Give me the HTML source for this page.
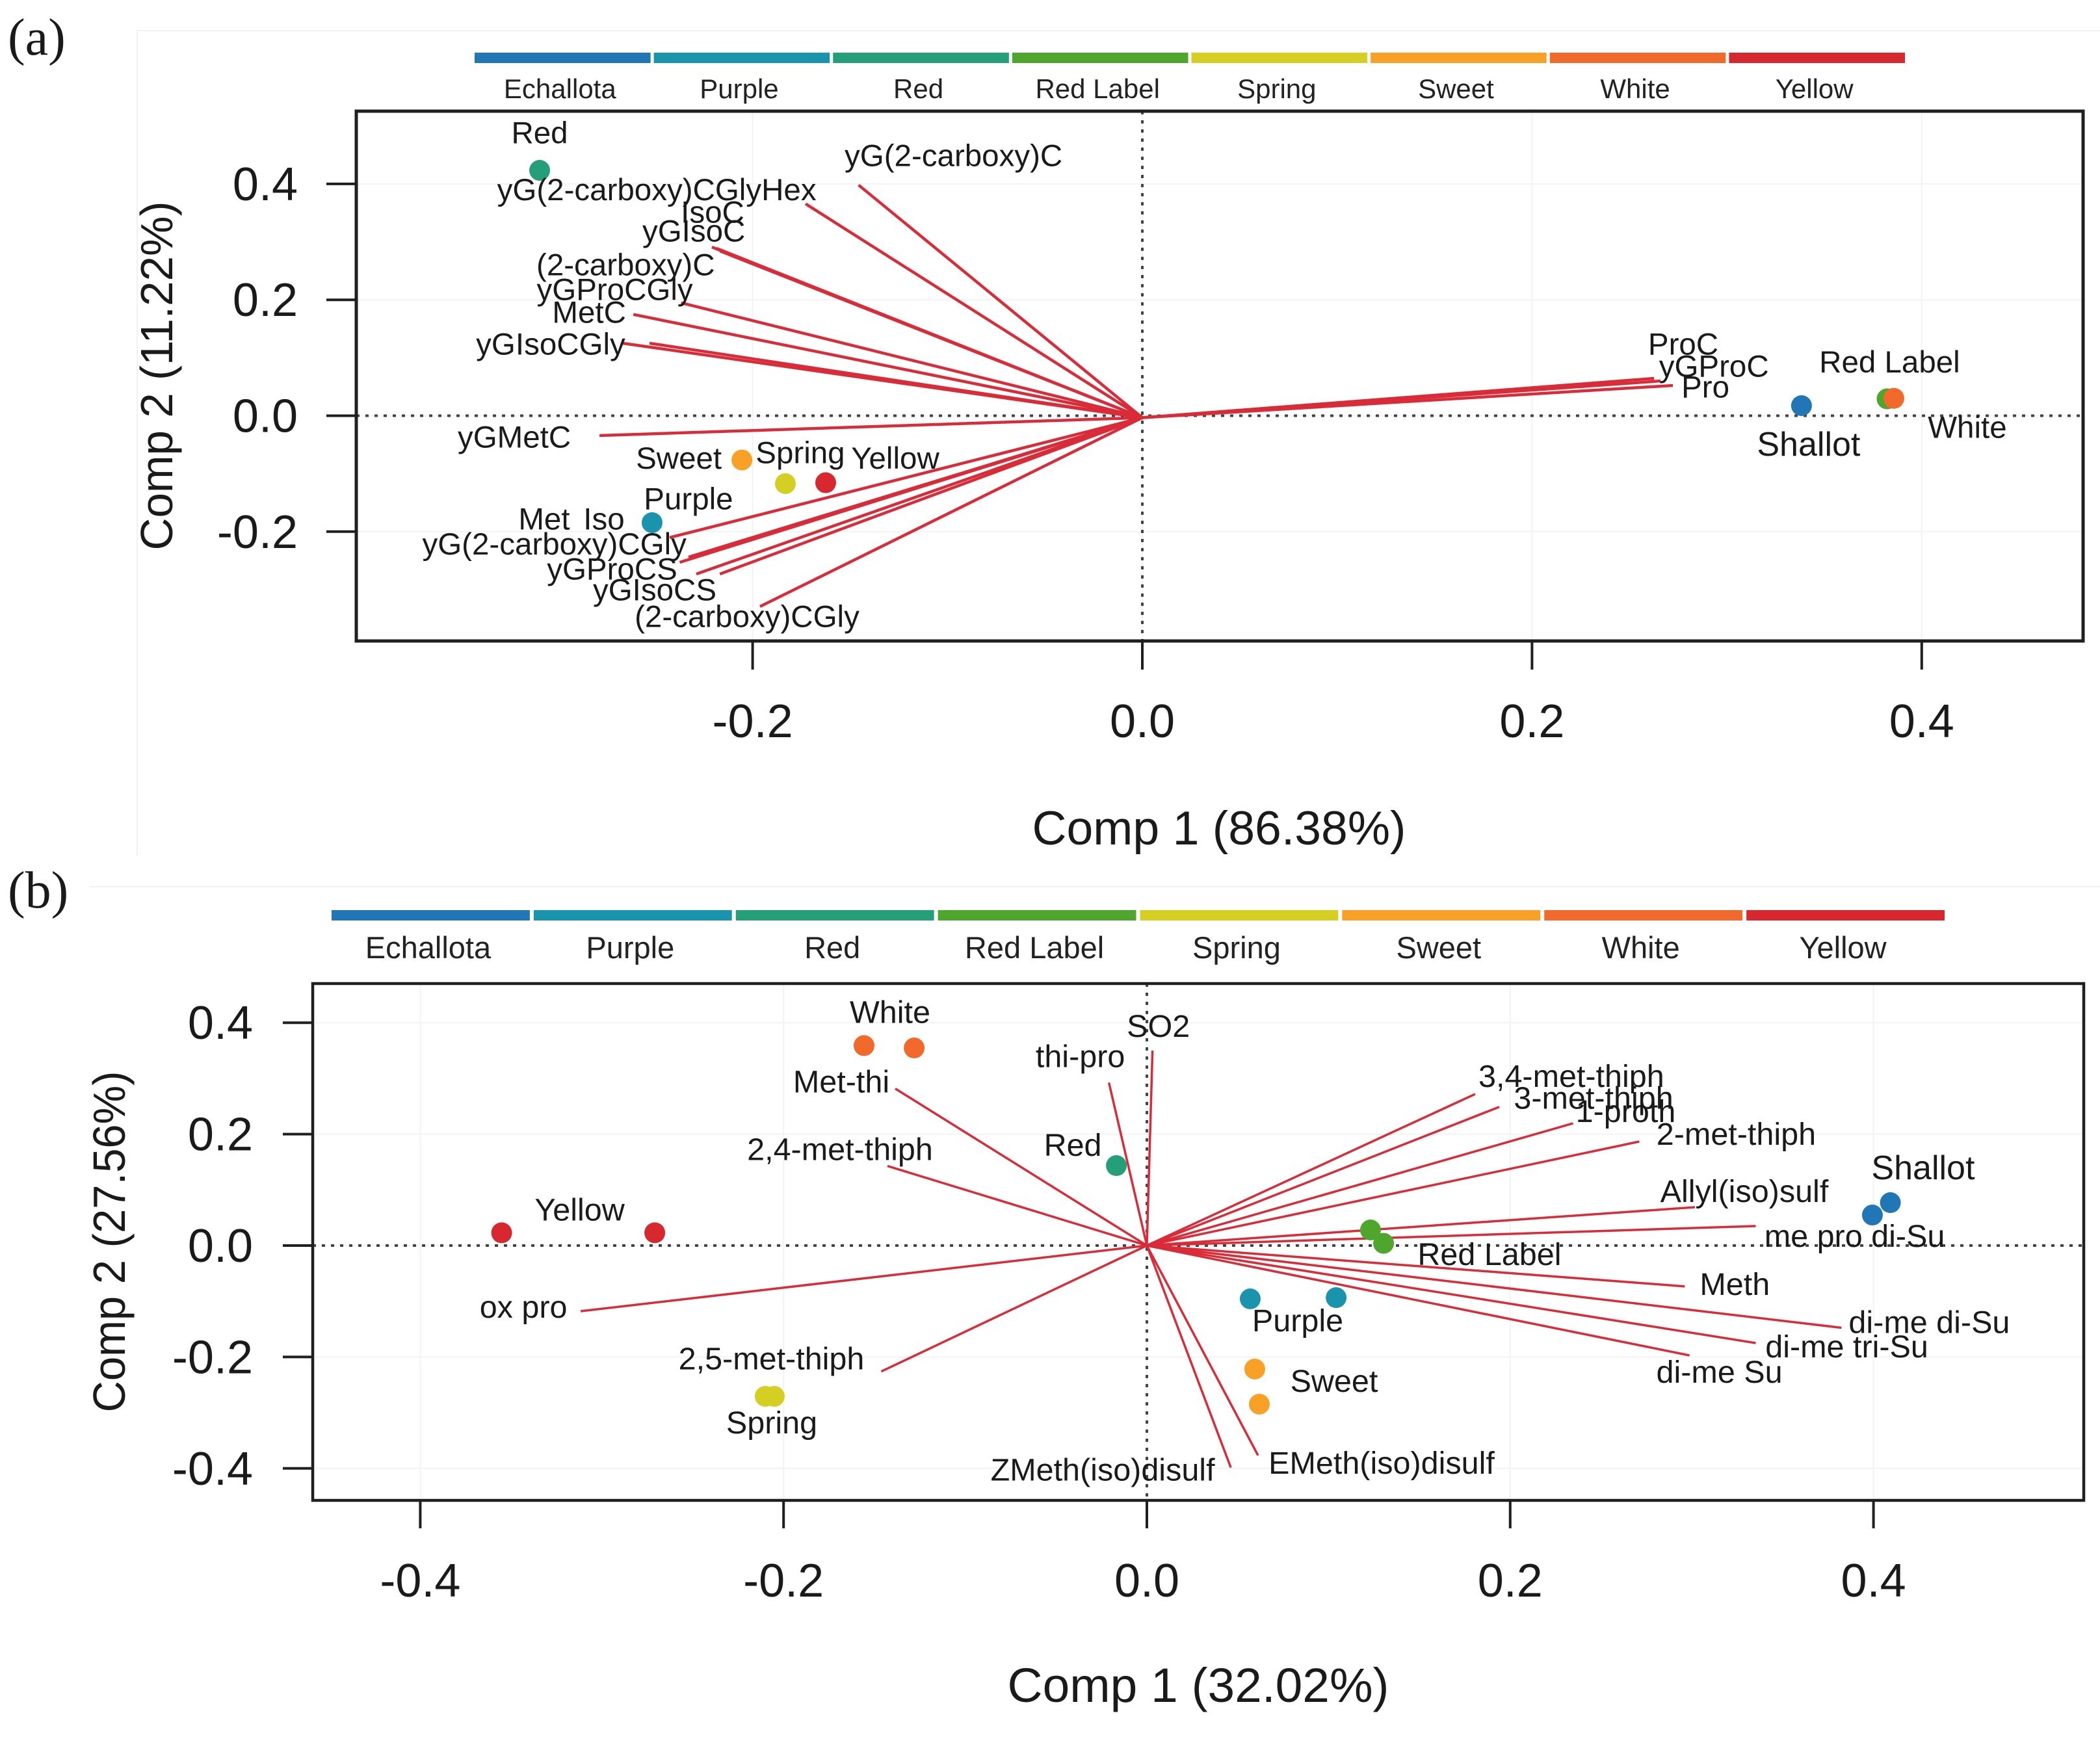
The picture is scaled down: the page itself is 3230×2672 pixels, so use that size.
<!DOCTYPE html>
<html lang="en">
<head>
<meta charset="utf-8">
<title>PCA biplots of onion varieties</title>
<style>
html,body{margin:0;padding:0;background:#fff;}
svg{display:block;font-family:"Liberation Sans",sans-serif;}
</style>
</head>
<body>
<svg id="figure" xmlns="http://www.w3.org/2000/svg" width="3230" height="2672" viewBox="0 0 3230 2672">
  <rect x="0" y="0" width="3230" height="2672" fill="#ffffff"/>
  <path d="M211 1316V47H3230" fill="none" stroke="#f1f1f1" stroke-width="2"/>
  <path d="M139 1364H3230" fill="none" stroke="#f1f1f1" stroke-width="2"/>
  <text x="12" y="84" font-family="'Liberation Serif',serif" font-size="80" fill="#1a1a1a">(a)</text>
  <text x="12" y="1396" font-family="'Liberation Serif',serif" font-size="80" fill="#1a1a1a">(b)</text>
  <text x="1875" y="1299" text-anchor="middle" font-size="73" fill="#1a1a1a" textLength="575" lengthAdjust="spacingAndGlyphs">Comp 1 (86.38%)</text>
  <text transform="translate(265 578) rotate(-90)" text-anchor="middle" font-size="70" fill="#1a1a1a" textLength="537" lengthAdjust="spacingAndGlyphs">Comp 2 (11.22%)</text>
  <text x="1843" y="2618" text-anchor="middle" font-size="74" fill="#1a1a1a" textLength="587" lengthAdjust="spacingAndGlyphs">Comp 1 (32.02%)</text>
  <text transform="translate(192 1910) rotate(-90)" text-anchor="middle" font-size="70" fill="#1a1a1a" textLength="525" lengthAdjust="spacingAndGlyphs">Comp 2 (27.56%)</text>
  <g id="panel-a"></g>
  <g id="panel-b"></g>
</svg>
<script>
// ---- shared categories ----
const categories = ['Echallota','Purple','Red','Red Label','Spring','Sweet','White','Yellow'];

// ---- panel (a) data ----
const xTicksA = [-0.2, 0.0, 0.2, 0.4];
const xTickLabelsA = ['-0.2','0.0','0.2','0.4'];
const yTicksA = [0.4, 0.2, 0.0, -0.2];
const yTickLabelsA = ['0.4','0.2','0.0','-0.2'];
const loadingNamesA = ['yG(2-carboxy)C','yG(2-carboxy)CGlyHex','IsoC','yGIsoC','(2-carboxy)C','yGProCGly','MetC','yGIsoCGly','','yGMetC','Met','Iso','yG(2-carboxy)CGly','yGProCS','yGIsoCS','','(2-carboxy)CGly','ProC','yGProC','Pro'];
const loadingXA = [-0.1456,-0.1728,-0.2209,-0.2185,-0.2168,-0.2367,-0.2612,-0.2666,-0.2529,-0.2786,-0.2426,-0.2329,-0.232,-0.2374,-0.2289,-0.2168,-0.1962,0.2626,0.266,0.2723];
const loadingYA = [0.398,0.3656,0.291,0.2888,0.2843,0.1948,0.1748,0.1251,0.1251,-0.0342,-0.2103,-0.244,-0.2455,-0.2529,-0.2731,-0.2731,-0.3292,0.0645,0.06,0.0522];
const scoreGroupsA = [2,5,4,7,1,0,3,6];
const scoreXA = [-0.3093,-0.2055,-0.1832,-0.1625,-0.2516,0.3383,0.3822,0.3857];
const scoreYA = [0.4234,-0.0764,-0.1172,-0.1156,-0.1845,0.0174,0.0291,0.03];
const scoreLabelsA = ['Red','Sweet','Spring','Yellow','Purple','Shallot','Red Label','White'];

// ---- panel (b) data ----
const xTicksB = [-0.4,-0.2,0.0,0.2,0.4];
const xTickLabelsB = ['-0.4','-0.2','0.0','0.2','0.4'];
const yTicksB = [0.4,0.2,0.0,-0.2,-0.4];
const yTickLabelsB = ['0.4','0.2','0.0','-0.2','-0.4'];
const loadingNamesB = ['SO2','thi-pro','3,4-met-thiph','3-met-thiph','1-proth','2-met-thiph','Allyl(iso)sulf','me pro di-Su','Meth','di-me di-Su','di-me tri-Su','di-me Su','EMeth(iso)disulf','ZMeth(iso)disulf','Met-thi','2,4-met-thiph','ox pro','2,5-met-thiph'];
const loadingXB = [0.0031,-0.0209,0.1807,0.194,0.2346,0.2711,0.3017,0.3352,0.2961,0.3824,0.3352,0.2987,0.0612,0.0462,-0.1385,-0.1428,-0.3117,-0.1462];
const loadingYB = [0.35,0.2924,0.2719,0.2489,0.2194,0.1867,0.0688,0.035,-0.0733,-0.1476,-0.175,-0.1972,-0.3767,-0.3985,0.2816,0.1428,-0.1179,-0.226];
const scoreGroupsB = [6,6,7,7,4,4,2,3,3,1,1,5,5,0,0];
const scoreXB = [-0.1557,-0.1281,-0.3552,-0.2709,-0.2101,-0.2051,-0.0168,0.1231,0.1303,0.0569,0.1042,0.0594,0.0619,0.3994,0.4093];
const scoreYB = [0.3589,0.3547,0.0229,0.0229,-0.2707,-0.2707,0.1435,0.028,0.004,-0.0957,-0.0935,-0.2217,-0.2847,0.0548,0.077];
const scoreLabelsB = ['White','','Yellow','','Spring','','Red','Red Label','','Purple','','Sweet','','Shallot',''];

// ---- presentation only: colours and label nudges (px from the mark) ----
const categoryColors = ['#2176b5','#1a93ad','#249f78','#4ea72c','#d5cf23','#f9a126','#f1692b','#d6282e'];
const loadingNudgeA = [[146,-46],[-229,-22],[1,-54],[-35,-27],[-145,21],[-102,-21],[-68,-4],[-111,1],[0,0],[-131,2],[-193,-29],[-130,-59],[-209,-22],[-104,10],[-64,24],[0,0],[-20,15],[45,-53],[82,-23],[50,2]];
const scoreNudgeA = [[0,-58],[-97,-3],[23,-48],[107,-38],[56,-37],[11,59],[4,-57],[113,44]];
const loadingNudgeB = [[9,-38],[-44,-41],[148,-28],[145,-14],[81,-19],[149,-12],[76,-25],[152,15],[77,-4],[135,-9],[140,5],[46,25],[190,11],[-197,3],[-83,-11],[-73,-26],[-88,-7],[-169,-20]];
const scoreNudgeB = [[40,-52],[0,0],[120,-36],[0,0],[10,40],[0,0],[-67,-32],[183,37],[0,0],[73,33],[0,0],[122,18],[0,0],[78,-73],[0,0]];

const NS = 'http://www.w3.org/2000/svg';
function make(parent, tag, attrs, text) {
  const el = document.createElementNS(NS, tag);
  for (const k in attrs) el.setAttribute(k, attrs[k]);
  if (text !== undefined) el.textContent = text;
  parent.appendChild(el);
  return el;
}
function slug(s) {
  return s.toLowerCase().replace(/[^a-z0-9]+/g, '-').replace(/^-|-$/g, '');
}
function scale(origin, perUnit) {
  return v => origin + perUnit * v;
}

function drawPanel(g, p) {
  const x = scale(p.x0, p.xUnit);
  const y = scale(p.y0, -p.yUnit);
  const TEXT = '#1a1a1a';

  // legend strip
  const step = (p.legendEnd - p.legendStart + p.legendGap) / categories.length;
  categories.forEach((c, i) => {
    const bar = make(g, 'rect', {x: p.legendStart + i * step, y: p.legendTop, width: step - p.legendGap, height: p.legendH, fill: categoryColors[i]});
    
    
    const label = make(g, 'text', {x: p.legendStart + i * step + (step - p.legendGap) / 2 - 4, y: p.legendLabelY, 'text-anchor': 'middle', 'font-size': p.legendFont, fill: '#222'}, c);
    
    
  });

  // faint grid
  p.xTicks.forEach(t => {
    const line = make(g, 'line', {x1: x(t), x2: x(t), y1: p.top, y2: p.bottom, stroke: '#f3f3f3', 'stroke-width': 2});
    
    
  });
  p.yTicks.forEach(t => {
    const line = make(g, 'line', {x1: p.left, x2: p.right, y1: y(t), y2: y(t), stroke: '#f3f3f3', 'stroke-width': 2});
    
    
  });

  // zero reference lines
  const zh = make(g, 'line', {x1: p.left, x2: p.right, y1: y(0), y2: y(0), stroke: '#444', 'stroke-width': 4, 'stroke-dasharray': '5 9'});
  
  
  const zv = make(g, 'line', {x1: x(0), x2: x(0), y1: p.top, y2: p.bottom, stroke: '#444', 'stroke-width': 4, 'stroke-dasharray': '5 9'});
  
  

  // loading vectors
  p.loadingX.forEach((v, i) => {
    const name = p.loadingNames[i] || 'unlabelled';
    const line = make(g, 'line', {x1: x(0), y1: y(0) + p.vectorDrop, x2: x(v), y2: y(p.loadingY[i]), stroke: '#d92b38', 'stroke-width': p.vectorWidth});
    
    
  });

  // score points
  p.scoreX.forEach((v, i) => {
    const c = p.scoreGroups[i];
    const dot = make(g, 'circle', {cx: x(v), cy: y(p.scoreY[i]), r: 16, fill: categoryColors[c]});
    
    
  });

  // loading labels
  p.loadingNames.forEach((name, i) => {
    if (!name) return;
    const n = p.loadingNudge[i];
    const t = make(g, 'text', {x: x(p.loadingX[i]) + n[0], y: y(p.loadingY[i]) + n[1] + p.labelFont * 0.35, 'text-anchor': 'middle', 'font-size': p.labelFont, fill: TEXT}, name);
    
    
  });

  // score group labels
  p.scoreLabels.forEach((name, i) => {
    if (!name) return;
    const n = p.scoreNudge[i];
    const size = name === 'Shallot' ? 52 : p.labelFont;
    const t = make(g, 'text', {x: x(p.scoreX[i]) + n[0], y: y(p.scoreY[i]) + n[1] + size * 0.35, 'text-anchor': 'middle', 'font-size': size, fill: TEXT}, name);
    
    
  });

  // plot box
  const box = make(g, 'rect', {x: p.left, y: p.top, width: p.right - p.left, height: p.bottom - p.top, fill: 'none', stroke: '#1f1f1f', 'stroke-width': p.boxWidth});
  
  

  // axes
  p.xTicks.forEach((t, i) => {
    const tick = make(g, 'line', {x1: x(t), x2: x(t), y1: p.bottom, y2: p.xTickEnd, stroke: '#1f1f1f', 'stroke-width': 4});
    
    
    const label = make(g, 'text', {x: x(t), y: p.xLabelY, 'text-anchor': 'middle', 'font-size': 72, fill: TEXT}, p.xTickLabels[i]);
    
    
  });
  p.yTicks.forEach((t, i) => {
    const tick = make(g, 'line', {x1: p.left, x2: p.yTickEnd, y1: y(t), y2: y(t), stroke: '#1f1f1f', 'stroke-width': 4});
    
    
    const label = make(g, 'text', {x: p.yLabelX, y: y(t) + 25, 'text-anchor': 'end', 'font-size': 72, fill: TEXT}, p.yTickLabels[i]);
    
    
  });
}

drawPanel(document.getElementById('panel-a'), {
  left: 548, right: 3204, top: 171, bottom: 986,
  x0: 1757, xUnit: 2997, y0: 639.5, yUnit: 891.5,
  xTickEnd: 1030, yTickEnd: 502, xLabelY: 1134, yLabelX: 458,
  legendStart: 730, legendEnd: 2930, legendGap: 5, legendTop: 81, legendH: 16, legendLabelY: 151, legendFont: 42,
  labelFont: 47.5, vectorWidth: 4.5, vectorDrop: 3, boxWidth: 5,
  xTicks: xTicksA, xTickLabels: xTickLabelsA, yTicks: yTicksA, yTickLabels: yTickLabelsA,
  loadingNames: loadingNamesA, loadingX: loadingXA, loadingY: loadingYA, loadingNudge: loadingNudgeA,
  scoreGroups: scoreGroupsA, scoreX: scoreXA, scoreY: scoreYA, scoreLabels: scoreLabelsA, scoreNudge: scoreNudgeA
});

drawPanel(document.getElementById('panel-b'), {
  left: 481, right: 3205, top: 1513, bottom: 2308,
  x0: 1764, xUnit: 2794, y0: 1916, yUnit: 857,
  xTickEnd: 2351, yTickEnd: 435, xLabelY: 2456, yLabelX: 389,
  legendStart: 510, legendEnd: 2991, legendGap: 6, legendTop: 1400, legendH: 16, legendLabelY: 1474, legendFont: 47,
  labelFont: 48.5, vectorWidth: 3.5, vectorDrop: 0, boxWidth: 4.5,
  xTicks: xTicksB, xTickLabels: xTickLabelsB, yTicks: yTicksB, yTickLabels: yTickLabelsB,
  loadingNames: loadingNamesB, loadingX: loadingXB, loadingY: loadingYB, loadingNudge: loadingNudgeB,
  scoreGroups: scoreGroupsB, scoreX: scoreXB, scoreY: scoreYB, scoreLabels: scoreLabelsB, scoreNudge: scoreNudgeB
});
</script>
</body>
</html>
